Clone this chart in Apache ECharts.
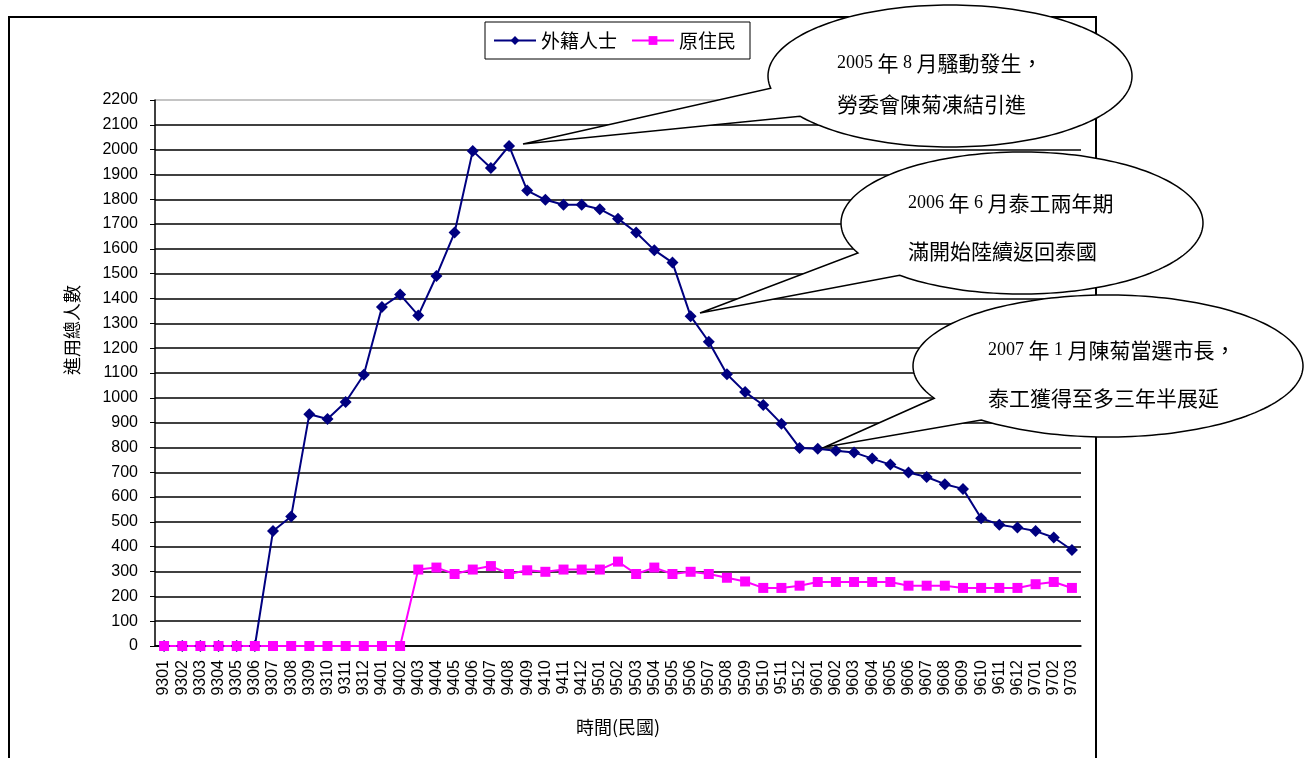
<!DOCTYPE html>
<html>
<head>
<meta charset="utf-8">
<script src="https://cdn.jsdelivr.net/npm/echarts@6/dist/echarts.min.js"></script>
<style>
  html, body { margin: 0; padding: 0; background: #fff; }
  #chart { width: 1305px; height: 758px; }
</style>
</head>
<body>
<div id="chart"></div>
<script>
// 年月 (民國)
const months = [
  '9301', '9302', '9303', '9304', '9305', '9306', '9307', '9308', '9309', '9310', '9311', '9312',
  '9401', '9402', '9403', '9404', '9405', '9406', '9407', '9408', '9409', '9410', '9411', '9412',
  '9501', '9502', '9503', '9504', '9505', '9506', '9507', '9508', '9509', '9510', '9511', '9512',
  '9601', '9602', '9603', '9604', '9605', '9606', '9607', '9608', '9609', '9610', '9611', '9612',
  '9701', '9702', '9703'
];

// 外籍人士
const foreign = [
  0, 0, 0, 0, 0, 0, 463, 522, 934, 915, 983, 1093,
  1366, 1416, 1332, 1491, 1666, 1995, 1926, 2015, 1835, 1798, 1778, 1778,
  1760, 1722, 1666, 1595, 1545, 1329, 1226, 1095, 1023, 971, 896, 798,
  795, 787, 780, 755, 731, 699, 681, 652, 633, 515, 489, 477,
  463, 437, 387
];

// 原住民
const aboriginal = [
  0, 0, 0, 0, 0, 0, 0, 0, 0, 0, 0, 0,
  0, 0, 308, 316, 290, 308, 322, 290, 305, 299, 308, 308,
  308, 340, 290, 316, 290, 299, 290, 275, 260, 234, 234, 243,
  258, 258, 258, 258, 258, 243, 243, 243, 234, 234, 234, 234,
  249, 258, 234
];

const yMin = 0;
const yMax = 2200;
const yStep = 100;

// 對話框 (橢圓 + 尖角)
function callout(cx, cy, rx, ry, tip, a0, a1) {
  const pts = [tip];
  const end = a1 + 360;
  for (let a = a0; a < end; a += 2) {
    const r = a * Math.PI / 180;
    pts.push([cx + rx * Math.cos(r), cy + ry * Math.sin(r)]);
  }
  const r = end * Math.PI / 180;
  pts.push([cx + rx * Math.cos(r), cy + ry * Math.sin(r)]);
  return {
    type: 'polygon',
    shape: { points: pts },
    style: { fill: '#fff', stroke: '#000', lineWidth: 1.5 },
    z: 100
  };
}

function note(x, y, text) {
  return {
    type: 'text',
    x: x,
    y: y,
    style: {
      text: text,
      fontFamily: 'Noto Sans CJK TC',
      fontSize: 21,
      fill: '#000',
      verticalAlign: 'middle',
      rich: {
        d: { fontFamily: 'Liberation Serif', fontSize: 18, fill: '#000' }
      }
    },
    z: 101
  };
}

// 格線: 最上面一條是淺灰色
const gridColors = [];
for (let v = yMin; v <= yMax; v += yStep) gridColors.push(v === yMax ? '#b0b0b0' : '#000');

const chart = echarts.init(document.getElementById('chart'));

chart.setOption({
  animation: false,
  backgroundColor: '#fff',
  grid: {
    left: 155,
    right: 224,
    top: 100,
    bottom: 112,
    containLabel: false,
    outerBoundsMode: 'none'
  },
  legend: {
    left: 485,
    top: 22,
    orient: 'horizontal',
    backgroundColor: '#fff',
    borderColor: '#000',
    borderWidth: 1,
    padding: [9, 14, 9, 8],
    itemGap: 14,
    itemWidth: 42,
    itemHeight: 11,
    textStyle: { fontFamily: 'Noto Sans CJK TC', fontSize: 19, color: '#000' },
    data: ['外籍人士', '原住民']
  },
  xAxis: {
    type: 'category',
    data: months,
    boundaryGap: true,
    name: '時間(民國)',
    nameLocation: 'middle',
    nameGap: 72,
    nameTextStyle: { fontFamily: 'Noto Sans CJK TC', fontSize: 18, color: '#000' },
    axisLine: { lineStyle: { color: '#000', width: 1.5 } },
    axisTick: { inside: true, length: 5, lineStyle: { color: '#000', width: 1 } },
    axisLabel: {
      interval: 0,
      rotate: 90,
      margin: 14,
      fontFamily: 'Liberation Sans',
      fontSize: 16,
      color: '#000'
    },
    splitLine: { show: false }
  },
  yAxis: {
    type: 'value',
    min: yMin,
    max: yMax,
    interval: yStep,
    axisLine: { show: true, lineStyle: { color: '#000', width: 1.5 } },
    axisTick: { show: true, length: 5, lineStyle: { color: '#000', width: 1 } },
    axisLabel: {
      margin: 17,
      fontFamily: 'Liberation Sans',
      fontSize: 16,
      color: '#000',
      formatter: (v) => String(v)
    },
    splitLine: { show: true, lineStyle: { color: gridColors, width: 1.5 } }
  },
  series: [
    {
      name: '外籍人士',
      type: 'line',
      data: foreign,
      symbol: 'diamond',
      symbolSize: 12,
      showAllSymbol: true,
      lineStyle: { color: '#000080', width: 2 },
      itemStyle: { color: '#000080' }
    },
    {
      name: '原住民',
      type: 'line',
      data: aboriginal,
      symbol: 'rect',
      symbolSize: 10,
      showAllSymbol: true,
      lineStyle: { color: '#ff00ff', width: 2 },
      itemStyle: { color: '#ff00ff' }
    }
  ],
  graphic: [
    {
      type: 'rect',
      shape: { x: 9, y: 17, width: 1087, height: 760 },
      style: { fill: null, stroke: '#000', lineWidth: 2 },
      z: 0
    },
    {
      type: 'text',
      x: 72,
      y: 330,
      rotation: Math.PI / 2,
      style: {
        text: '進用總人數',
        fontFamily: 'Noto Sans CJK TC',
        fontSize: 18,
        fill: '#000',
        align: 'center',
        verticalAlign: 'middle'
      }
    },
    callout(950, 76, 182, 71, [523, 144], 170, 145.5),
    note(837, 63, '{d|2005 }年{d| 8 }月騷動發生，'),
    note(837, 104, '勞委會陳菊凍結引進'),
    callout(1022, 223, 181, 71, [700, 313], 155, 132.5),
    note(908, 203, '{d|2006 }年{d| 6 }月泰工兩年期'),
    note(908, 251, '滿開始陸續返回泰國'),
    callout(1108, 366, 195, 71, [825, 447], 153, 130.5),
    note(988, 350, '{d|2007 }年{d| 1 }月陳菊當選市長，'),
    note(988, 398, '泰工獲得至多三年半展延')
  ]
});
</script>
</body>
</html>
